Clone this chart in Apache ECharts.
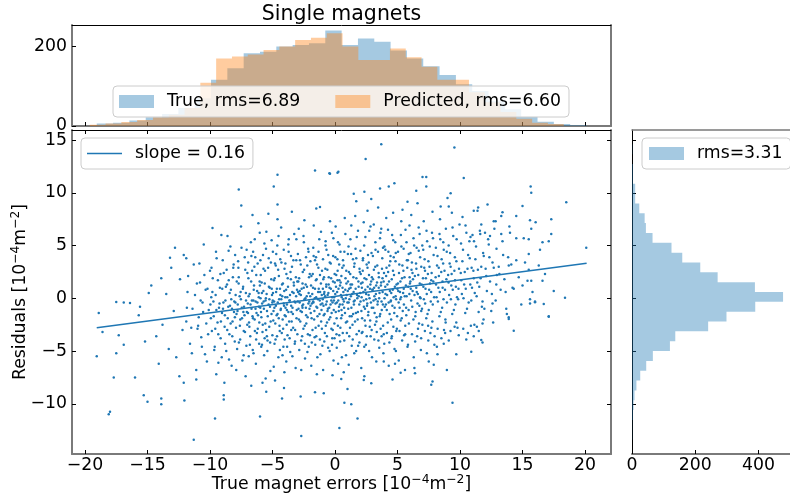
<!DOCTYPE html>
<html><head><meta charset="utf-8">
<script src="https://cdn.jsdelivr.net/npm/echarts@6/dist/echarts.min.js"></script>
<style>html,body{margin:0;padding:0;background:#fff}#c{width:790px;height:500px}</style>
</head><body><div id="c"></div>
<script>
// ---- data ----
const xTicks = [-20, -15, -10, -5, 0, 5, 10, 15, 20];
const yTicks = [-10, -5, 0, 5, 10, 15];
const topHistTicks = [0, 200];
const rightHistTicks = [0, 200, 400];

const trueBinStart = -19.06, trueBinWidth = 1.306;
const trueCounts = [6, 8, 14, 22, 30, 45, 70, 116, 145, 183, 187, 200, 204, 208, 240, 204, 220, 212, 190, 170, 150, 128, 105, 88, 62, 42, 23, 11, 5, 2];
const predBinStart = -19.62, predBinWidth = 1.264;
const predCounts = [3, 6, 10, 15, 22, 28, 45, 109, 170, 175, 180, 191, 200, 216, 222, 233, 200, 166, 166, 195, 173, 149, 116, 116, 85, 60, 35, 18, 8, 5];
const resBinStart = -13.4, resBinWidth = 0.933;
const resCounts = [1, 1, 3, 5, 8, 14, 26, 45, 66, 120, 137, 241, 299, 390, 478, 389, 271, 216, 159, 125, 65, 44, 40, 23, 10, 10, 3, 3, 0, 1];

const fitX = [-19.06, 20.13];
const fitY = [-2.79, 3.32];

const outlierPoints = [
[-1.6,12.1],[-0.45,11.85],[0.2,11.9],[-4.6,11.7],[-4.9,10.6],[-7.7,10.3],[-4.6,8.9],[-7.5,8.8],[-1.5,8.5],[-1.2,8.65],[-6.6,7.9],[-9.8,6.66],[-12.8,4.8],[-11.9,3.8],[-13.2,3.85],[-13.9,1.9],[-14.9,0.5],[-17.5,-0.35],[-18.9,-1.4],[-16.9,-0.4],[-16.4,-0.45],[-15.7,-1.6],
[-19.06,-5.5],[-18.6,-3.2],[-17.3,-3.5],[-16.9,-4.4],[-17.5,-5.2],[-17.7,-7.5],[-16,-7.5],[-18,-10.75],[-18.1,-11],[-15.3,-9.2],[-15,-9.8],[-13.9,-9.5],[-13.9,-10.05],[-11.3,-13.4],[-9.6,-11.4],[-8.9,-9.2],[-8.9,-9.6],[-12.05,-9.7],[-6,-11.2],[-2.7,-13.05],[-4.08,-8.5],[-4.24,-9.5],[-2.75,-9.3],[-1.6,-8.9],[-0.9,-9],[0.35,-12.3],[-5.8,-8],[-5.5,-8.85],[-4.8,-7.8],[-12.1,-8],[-12.45,-7.4],[-11.1,-7.7],
[1.8,-11.4],[0.75,-9.9],[1.3,-10.05],[1,-8.6],[2.9,-8.05],[2.3,-7.75],[7.7,-8.2],[7.8,-7.9],[9.4,-9.9],[10.9,-5.06],[11.7,-3.95],[11.8,-4.2],[14.3,-3.07],[13.9,-1.96],[17.1,-1.74],[16.7,-0.54],[15.6,-0.5],[16,-0.38],[12.6,-0.5],[7.5,-6],[6.35,-6.6],[5.25,-7.05],[4.8,-6.2],[3.9,-6],[-0.2,-7.3],[0.5,-7.65],[8.2,-5.3],[8.7,-4.3],[11.1,-3.6],[11.5,-3.1],[9.7,-2.3],[11.8,-2.4],
[3.7,14.6],[9.55,14.3],[2.45,13.2],[0.27,12],[-0.4,11.8],[7,11.5],[7.3,11.5],[7.3,10.6],[10.3,11.4],[3.6,10.4],[4.3,10.6],[4.75,10.9],[6.5,10.2],[2.35,10.1],[1.5,9.9],[15.65,10.6],[15.7,10],[18.5,9.1],[9.25,9.95],[9,9.5],[5.8,9.15],[2.9,9.4],[1.7,9.2],[8.45,8.7],[9.1,8.7],[11.1,8.3],[11.4,8.3],[13.4,8.15],[13.3,7.8],[15,8.75],[14.5,7.8],[15.6,7.4],[16.05,7.2],[15.7,6.6],[17.3,7.5],[17.3,6.1],[15.1,5.7],[15.5,5.6],[16.6,5.3],[17.1,5.4],[16.4,4.6],[20.1,4.8],[15.5,4.2],[14.5,3.6],[15.7,1.65],[15.4,1.65],[16.6,1.65],[17.5,0.7],[18.4,0.05],[17.1,-1.7],[16,-0.3],[15.6,-0.1],[15,1.2],[14.2,1],[13.9,-1.8],[14,6.2],[12.7,7.3],[12.85,7.3],[11.7,7],[12,6.2],[12.4,5.9],[11,6]
];

const corePoints = [
[-15.6,-0.8],[-15.2,-4.1],
[-14.7,1.2],[-14.3,-3.6],[-14.1,-6.2],
[-13.8,-2.5],[-13.5,0.4],[-13.3,-4.8],[-13.1,2.9],
[-12.9,-1.2],[-12.7,-5.6],[-12.4,1.8],[-12.2,-3.0],[-12.1,4.1],
[-11.9,-2.2],[-11.8,0.6],[-11.6,-4.3],[-11.4,-1.0],[-11.3,3.2],[-11.1,-6.8],[-11.0,-2.9],
[-10.9,-1.8],[-10.8,1.5],[-10.7,-3.7],[-10.6,-0.4],[-10.5,5.1],[-10.4,-5.3],[-10.3,-2.4],[-10.2,0.9],[-10.1,-1.1],[-10.0,2.6],
[-9.97,-0.6],[-9.85,-3.1],[-9.78,1.9],[-9.7,-1.7],[-9.62,-4.6],[-9.55,0.3],[-9.47,3.8],[-9.4,-2.3],[-9.33,-6.1],[-9.28,-0.9],[-9.21,1.0],[-9.15,-3.8],[-9.09,6.0],[-9.04,-1.4],[-9.5,-7.2],[-9.9,0.1],
[-8.96,-1.0],[-8.9,2.4],[-8.83,-2.7],[-8.77,-0.2],[-8.7,-5.0],[-8.64,1.3],[-8.58,-1.9],[-8.51,4.5],[-8.45,-3.4],[-8.4,-0.7],[-8.33,0.8],[-8.27,-6.4],[-8.2,-2.2],[-8.14,2.9],[-8.08,-1.3],[-8.02,-4.1],[-8.6,5.9],[-8.85,-8.0],[-8.3,-0.1],[-8.5,1.7],
[-7.97,-0.4],[-7.92,-2.8],[-7.86,1.6],[-7.8,-1.2],[-7.75,3.5],[-7.69,-4.2],[-7.63,0.2],[-7.58,-2.0],[-7.52,6.8],[-7.46,-0.9],[-7.41,-5.9],[-7.35,1.1],[-7.3,-3.1],[-7.24,-1.6],[-7.18,2.7],[-7.12,-0.2],[-7.07,4.6],[-7.02,-2.5],[-7.9,-6.8],[-7.55,0.6],[-7.33,-1.3],[-7.15,-7.4],[-7.7,2.0],
[-6.98,-0.5],[-6.93,1.9],[-6.88,-2.3],[-6.83,0.4],[-6.78,-3.6],[-6.73,5.3],[-6.68,-1.0],[-6.63,2.6],[-6.58,-4.9],[-6.53,-0.2],[-6.48,1.2],[-6.43,-2.0],[-6.38,3.9],[-6.33,-6.2],[-6.28,-1.4],[-6.23,0.7],[-6.18,-2.9],[-6.13,7.1],[-6.08,-0.8],[-6.03,1.6],[-6.9,-5.5],[-6.6,-1.7],[-6.45,3.0],[-6.25,-3.3],[-6.1,0.1],[-6.7,-8.3],[-6.35,-0.3],[-6.55,4.4],
[-5.98,-0.9],[-5.94,2.2],[-5.89,-1.8],[-5.85,0.5],[-5.8,-3.2],[-5.76,4.1],[-5.71,-0.3],[-5.67,-5.4],[-5.62,1.4],[-5.58,-2.4],[-5.53,0.0],[-5.49,6.3],[-5.44,-1.2],[-5.4,-4.0],[-5.35,2.9],[-5.31,-0.6],[-5.26,-2.7],[-5.22,1.0],[-5.17,-6.9],[-5.13,3.4],[-5.08,-1.5],[-5.04,0.3],[-5.9,-4.6],[-5.65,5.2],[-5.45,-3.6],[-5.25,-0.1],[-5.1,1.8],[-5.55,-7.6],[-5.33,8.0],
[-4.98,-0.2],[-4.94,-2.1],[-4.89,1.7],[-4.85,-0.9],[-4.8,3.3],[-4.76,-3.9],[-4.71,0.6],[-4.67,-1.6],[-4.62,5.0],[-4.58,-0.4],[-4.53,-5.6],[-4.49,2.1],[-4.44,-2.6],[-4.4,0.9],[-4.35,-1.1],[-4.31,6.7],[-4.26,-3.3],[-4.22,0.2],[-4.17,1.4],[-4.13,-4.6],[-4.08,-0.7],[-4.04,2.8],[-4.9,-6.5],[-4.7,4.2],[-4.5,-1.9],[-4.3,-0.1],[-4.15,-2.9],[-4.6,7.5],[-4.05,-7.0],[-4.38,3.7],
[-3.98,0.1],[-3.94,-1.7],[-3.89,2.3],[-3.85,-0.6],[-3.8,-3.5],[-3.76,1.1],[-3.71,4.4],[-3.67,-2.2],[-3.62,-0.2],[-3.58,-5.1],[-3.53,1.8],[-3.49,-1.3],[-3.44,3.0],[-3.4,-0.9],[-3.35,-2.8],[-3.31,0.5],[-3.26,6.1],[-3.22,-4.3],[-3.17,-0.4],[-3.13,2.0],[-3.08,-1.9],[-3.04,0.8],[-3.9,-6.0],[-3.7,5.6],[-3.5,-3.0],[-3.3,1.5],[-3.15,-6.6],[-3.6,0.3],[-3.45,8.2],[-3.1,3.6],[-3.85,-1.1],
[-2.98,-0.3],[-2.94,1.6],[-2.89,-2.0],[-2.85,0.4],[-2.8,3.6],[-2.76,-1.2],[-2.71,-4.0],[-2.67,0.9],[-2.62,-0.7],[-2.58,2.5],[-2.53,-2.9],[-2.49,5.3],[-2.44,-0.1],[-2.4,-5.7],[-2.35,1.3],[-2.31,-1.6],[-2.26,0.2],[-2.22,3.1],[-2.17,-3.4],[-2.13,-0.5],[-2.08,2.0],[-2.04,-1.0],[-2.9,6.6],[-2.7,-6.8],[-2.5,1.0],[-2.3,-2.4],[-2.15,4.7],[-2.6,-0.9],[-2.45,7.4],[-2.1,-4.6],[-2.82,0.7],
[-1.98,0.2],[-1.94,-1.4],[-1.89,2.1],[-1.85,-0.5],[-1.8,-3.0],[-1.76,1.0],[-1.71,4.0],[-1.67,-2.0],[-1.62,0.0],[-1.58,-4.4],[-1.53,1.7],[-1.49,-0.8],[-1.44,3.2],[-1.4,-1.7],[-1.35,0.6],[-1.31,-2.6],[-1.26,5.6],[-1.22,-0.2],[-1.17,-5.3],[-1.13,1.4],[-1.08,-1.1],[-1.04,2.6],[-1.9,-6.4],[-1.7,6.9],[-1.5,-3.6],[-1.3,0.9],[-1.15,-0.6],[-1.6,3.6],[-1.45,-7.2],[-1.2,2.2],[-1.05,-2.9],[-1.75,-0.3],
[-0.98,-0.1],[-0.94,1.8],[-0.9,-1.6],[-0.85,0.6],[-0.81,-3.3],[-0.77,2.8],[-0.72,-0.6],[-0.68,4.6],[-0.64,-2.3],[-0.59,0.3],[-0.55,-4.7],[-0.51,1.3],[-0.46,-0.9],[-0.42,3.4],[-0.38,-1.8],[-0.33,0.9],[-0.29,-2.9],[-0.25,6.2],[-0.2,-0.4],[-0.16,1.6],[-0.12,-5.9],[-0.07,0.1],[-0.03,2.3],[-0.95,-6.8],[-0.75,5.4],[-0.6,-1.2],[-0.4,7.3],[-0.22,-3.8],[-0.1,-1.1],[-0.87,0.4],[-0.5,2.0],[-0.3,-0.2],[-0.15,4.0],[-0.05,-2.4],[-0.7,1.1],
[0.02,0.4],[0.06,-1.3],[0.1,2.2],[0.15,-0.4],[0.19,3.7],[0.23,-2.6],[0.28,0.9],[0.32,-0.8],[0.36,5.1],[0.41,-4.1],[0.45,1.5],[0.49,-1.9],[0.54,0.1],[0.58,2.9],[0.62,-3.3],[0.67,0.6],[0.71,-0.3],[0.75,4.4],[0.8,-1.4],[0.84,1.9],[0.88,-5.4],[0.93,0.3],[0.97,-2.2],[0.05,6.8],[0.25,-6.2],[0.4,1.2],[0.6,-0.6],[0.78,7.6],[0.9,2.6],[0.12,-3.4],[0.33,3.2],[0.52,-1.1],[0.7,-7.0],[0.86,0.0],[0.2,1.7],
[1.02,0.7],[1.06,-1.0],[1.11,2.5],[1.15,-0.1],[1.2,-2.8],[1.24,1.3],[1.29,4.2],[1.33,-1.7],[1.38,0.4],[1.42,-3.9],[1.47,2.0],[1.51,-0.6],[1.56,3.3],[1.6,-2.2],[1.65,0.9],[1.69,-5.0],[1.74,5.8],[1.78,0.0],[1.83,-1.3],[1.87,1.6],[1.92,-3.1],[1.96,2.8],[1.1,-6.3],[1.3,6.9],[1.5,-0.3],[1.7,3.8],[1.85,-4.5],[1.25,1.0],[1.45,-1.5],[1.62,7.8],[1.9,0.2],[1.08,4.9],
[2.02,0.5],[2.06,2.3],[2.11,-1.2],[2.15,1.0],[2.2,-3.2],[2.24,3.8],[2.29,-0.2],[2.33,5.0],[2.38,-2.1],[2.42,0.8],[2.47,-4.4],[2.51,1.8],[2.56,-0.7],[2.6,2.9],[2.65,-1.6],[2.69,0.3],[2.74,6.4],[2.78,-2.7],[2.83,1.3],[2.87,-0.4],[2.92,4.3],[2.96,-5.6],[2.1,-6.6],[2.3,7.2],[2.5,-0.1],[2.7,3.4],[2.85,-3.6],[2.2,1.5],[2.4,-1.0],[2.6,8.3],[2.8,0.9],[2.95,2.0],[2.35,-7.4],
[3.02,0.8],[3.06,-0.9],[3.11,2.7],[3.15,0.2],[3.2,-2.5],[3.24,4.6],[3.29,1.2],[3.33,-1.8],[3.38,3.1],[3.42,-0.3],[3.47,-4.0],[3.51,2.0],[3.56,0.5],[3.6,5.7],[3.65,-2.9],[3.69,1.5],[3.74,-1.1],[3.78,3.8],[3.83,-0.6],[3.87,-5.2],[3.92,2.4],[3.96,0.0],[3.1,7.0],[3.3,-6.0],[3.5,1.0],[3.7,6.6],[3.9,-3.4],[3.25,-0.1],[3.45,8.6],[3.62,-1.5],[3.8,1.9],[3.95,4.9],
[4.02,1.1],[4.07,-0.6],[4.12,2.9],[4.17,0.3],[4.22,-2.3],[4.27,4.4],[4.32,1.6],[4.37,-1.5],[4.42,3.5],[4.47,-0.2],[4.52,-3.8],[4.57,6.0],[4.62,0.8],[4.67,-2.7],[4.72,2.2],[4.77,-0.9],[4.82,5.3],[4.87,-5.0],[4.92,1.3],[4.97,-1.7],[4.1,7.6],[4.3,-6.4],[4.5,0.5],[4.7,3.9],[4.9,-3.1],[4.25,2.5],[4.45,-0.3],[4.65,8.1],[4.85,0.2],[4.6,-7.7],
[5.03,1.4],[5.09,-0.4],[5.14,3.2],[5.2,0.6],[5.25,-2.1],[5.31,4.9],[5.36,1.9],[5.42,-1.2],[5.47,2.6],[5.53,-3.5],[5.58,0.2],[5.64,6.5],[5.69,-0.9],[5.75,3.6],[5.8,-4.6],[5.86,1.1],[5.91,-2.4],[5.97,2.0],[5.1,-5.9],[5.3,7.3],[5.5,0.9],[5.7,-1.6],[5.9,4.2],[5.22,-0.1],[5.4,8.4],[5.6,-6.8],[5.78,2.9],[5.95,0.4],
[6.03,1.6],[6.09,-0.2],[6.15,3.4],[6.21,0.7],[6.27,-2.0],[6.33,5.0],[6.39,2.1],[6.45,-1.3],[6.51,2.8],[6.57,-3.6],[6.63,0.4],[6.69,6.7],[6.75,-0.7],[6.81,3.9],[6.87,-4.9],[6.93,1.3],[6.99,-2.5],[6.1,7.9],[6.3,-5.6],[6.5,1.0],[6.7,4.5],[6.9,-1.2],[6.2,2.4],[6.6,9.0],[6.8,0.1],[6.4,-7.1],
[7.04,1.9],[7.11,-0.1],[7.17,3.7],[7.24,0.9],[7.3,-1.9],[7.37,5.4],[7.43,2.3],[7.5,-1.1],[7.56,3.0],[7.63,-3.3],[7.69,0.6],[7.76,6.2],[7.82,-0.6],[7.89,4.1],[7.95,-4.4],[7.1,7.3],[7.35,-5.2],[7.6,1.4],[7.8,8.2],[7.2,2.6],[7.45,-2.6],[7.7,1.7],[7.9,-6.3],
[8.05,2.0],[8.12,0.1],[8.2,4.0],[8.27,1.0],[8.35,-1.7],[8.42,5.6],[8.5,2.5],[8.57,-0.9],[8.65,3.3],[8.72,-3.0],[8.8,0.8],[8.87,6.6],[8.95,-0.4],[8.15,-4.6],[8.4,7.5],[8.6,1.6],[8.85,-2.3],[8.3,2.9],[8.7,4.6],[8.95,-6.8],
[9.05,2.2],[9.13,0.3],[9.21,4.3],[9.3,1.2],[9.38,-1.5],[9.46,5.9],[9.55,2.6],[9.63,-0.6],[9.71,3.5],[9.8,-2.8],[9.88,0.9],[9.96,7.0],[9.1,-4.0],[9.35,8.1],[9.6,1.7],[9.85,-0.1],[9.25,3.0],[9.7,-5.3],
[10.06,2.4],[10.15,0.4],[10.24,4.6],[10.33,1.3],[10.42,-1.4],[10.51,6.2],[10.6,2.8],[10.69,-0.4],[10.78,3.8],[10.87,-2.6],[10.96,1.0],[10.2,7.7],[10.5,-3.9],[10.75,5.4],[10.9,-0.2],
[11.07,2.6],[11.18,0.5],[11.28,4.9],[11.38,1.5],[11.49,-1.3],[11.59,6.4],[11.7,3.0],[11.8,-0.3],[11.9,4.0],[11.15,-2.5],[11.45,8.6],[11.65,1.9],[11.95,-1.0],
[12.05,2.8],[12.15,0.7],[12.3,5.1],[12.4,1.6],[12.5,-1.2],[12.6,3.4],[12.75,6.6],[12.85,-0.2],[12.95,2.2],[12.2,8.9],
[13.1,3.0],[13.25,0.8],[13.4,5.4],[13.55,1.8],[13.7,-1.0],[13.85,3.9],[13.95,6.8],
[14.1,3.2],[14.3,0.9],[14.5,5.7],[14.7,2.0],[14.9,-0.6],
[15.2,3.4],[15.5,2.7],[15.8,0.6],
[16.3,3.1],[16.8,2.3]
];

const densePoints = [
[-11.85,-0.9],[-11.5,-2.8],[-11.2,0.3],
[-10.95,-2.6],[-10.75,-0.2],[-10.55,-1.3],[-10.35,0.8],[-10.15,-3.4],
[-9.93,-1.9],[-9.81,0.6],[-9.73,-0.3],[-9.58,-2.9],[-9.49,-1.1],[-9.37,1.7],[-9.24,-0.5],[-9.13,-2.2],[-9.02,0.9],
[-8.93,-0.4],[-8.81,-1.6],[-8.73,1.1],[-8.62,-3.0],[-8.54,-0.8],[-8.43,0.5],[-8.35,-2.4],[-8.24,-1.0],[-8.17,2.0],[-8.06,-0.3],[-8.01,-1.8],
[-7.95,0.3],[-7.88,-1.5],[-7.78,-0.6],[-7.71,1.4],[-7.61,-2.6],[-7.53,-0.1],[-7.44,-1.9],[-7.37,0.9],[-7.28,-0.8],[-7.2,-3.2],[-7.13,0.5],[-7.05,-1.3],[-7.01,2.4],
[-6.96,-1.4],[-6.91,0.2],[-6.85,-2.7],[-6.76,-0.6],[-6.71,1.6],[-6.65,-0.2],[-6.56,-1.9],[-6.5,0.8],[-6.41,-3.1],[-6.36,-1.0],[-6.3,2.2],[-6.21,-0.4],[-6.16,-1.6],[-6.11,0.5],[-6.06,-2.3],[-6.01,1.2],
[-5.96,0.0],[-5.92,-1.3],[-5.87,1.5],[-5.83,-0.5],[-5.78,-2.5],[-5.73,0.7],[-5.69,-1.0],[-5.6,2.6],[-5.56,-0.2],[-5.51,-3.0],[-5.47,0.4],[-5.38,-1.7],[-5.29,1.1],[-5.2,-0.8],[-5.15,-2.2],[-5.06,0.9],[-5.02,-0.4],
[-4.96,0.5],[-4.92,-1.2],[-4.87,-0.3],[-4.82,1.9],[-4.78,-2.4],[-4.73,-0.7],[-4.65,0.9],[-4.6,-1.5],[-4.55,2.7],[-4.47,-0.1],[-4.42,-3.1],[-4.37,0.3],[-4.33,-1.0],[-4.24,1.3],[-4.19,-2.0],[-4.11,-0.5],[-4.06,0.7],[-4.02,-1.6],
[-3.96,-0.9],[-3.91,0.8],[-3.87,-2.5],[-3.82,0.1],[-3.78,1.9],[-3.73,-1.3],[-3.65,-0.2],[-3.56,2.5],[-3.51,-0.7],[-3.47,-2.2],[-3.42,0.6],[-3.37,-1.5],[-3.29,1.2],[-3.24,-0.3],[-3.19,-3.0],[-3.11,0.2],[-3.06,-1.1],[-3.02,1.6],
[-2.96,0.6],[-2.92,-1.0],[-2.87,1.9],[-2.83,-0.4],[-2.78,-2.2],[-2.73,0.3],[-2.65,-1.3],[-2.6,1.4],[-2.55,-0.6],[-2.47,2.7],[-2.42,-2.6],[-2.37,0.0],[-2.33,-0.9],[-2.24,1.1],[-2.19,-1.8],[-2.11,0.5],[-2.06,-0.3],[-2.02,2.3],
[-1.96,-0.7],[-1.92,1.2],[-1.87,-1.9],[-1.82,0.4],[-1.78,2.3],[-1.73,-0.4],[-1.65,-1.2],[-1.6,0.9],[-1.55,-2.8],[-1.51,0.1],[-1.47,1.8],[-1.42,-0.9],[-1.37,-0.1],[-1.33,2.9],[-1.24,-1.5],[-1.19,0.6],[-1.11,-2.2],[-1.06,0.3],[-1.02,-0.5],
[-0.97,0.9],[-0.92,-0.7],[-0.88,2.0],[-0.83,-1.5],[-0.79,0.2],[-0.74,-2.6],[-0.7,1.3],[-0.66,-0.3],[-0.61,2.7],[-0.57,-1.0],[-0.53,0.5],[-0.48,-2.0],[-0.44,1.0],[-0.36,-0.6],[-0.31,1.9],[-0.27,-1.4],[-0.23,0.1],[-0.18,-3.0],[-0.14,0.7],[-0.09,-0.2],[-0.02,1.5],
[0.04,-0.5],[0.08,1.1],[0.13,-1.9],[0.17,0.6],[0.21,2.6],[0.26,-0.2],[0.3,-1.2],[0.35,1.7],[0.39,-0.6],[0.43,-2.8],[0.47,0.3],[0.51,2.1],[0.56,-1.6],[0.6,1.0],[0.65,-0.1],[0.69,3.1],[0.73,-0.9],[0.82,0.8],[0.87,-2.3],[0.91,1.4],[0.99,-0.4],
[1.04,1.6],[1.09,-0.4],[1.13,0.9],[1.18,-1.7],[1.22,2.3],[1.27,0.2],[1.31,-0.9],[1.36,1.3],[1.4,-2.5],[1.49,0.6],[1.53,3.0],[1.58,-0.2],[1.67,-1.4],[1.71,1.9],[1.76,0.3],[1.81,-2.0],[1.89,1.1],[1.94,-0.6],[1.98,2.5],
[2.04,-0.3],[2.08,1.4],[2.13,0.1],[2.17,-1.9],[2.22,2.6],[2.27,0.6],[2.31,-0.8],[2.36,1.9],[2.44,-2.6],[2.49,0.4],[2.53,3.2],[2.58,-0.5],[2.62,1.1],[2.67,-1.3],[2.72,2.2],[2.76,0.0],[2.81,-2.1],[2.89,1.6],[2.94,-0.9],[2.98,0.8],
[3.04,1.8],[3.08,-0.2],[3.13,1.0],[3.17,-1.4],[3.22,3.0],[3.27,0.4],[3.31,-2.2],[3.36,1.5],[3.4,-0.6],[3.49,2.4],[3.53,0.0],[3.58,-1.7],[3.67,1.2],[3.72,-0.3],[3.76,2.8],[3.81,0.6],[3.85,-2.6],[3.89,1.6],[3.98,-0.8],
[4.04,0.4],[4.09,2.1],[4.14,-1.1],[4.19,1.3],[4.29,-0.4],[4.34,3.1],[4.39,0.7],[4.49,-2.0],[4.54,1.8],[4.59,-0.7],[4.64,2.6],[4.69,0.1],[4.74,-1.4],[4.79,1.1],[4.84,3.5],[4.89,-0.1],[4.99,0.9],
[5.06,0.7],[5.12,2.4],[5.17,-0.9],[5.23,1.6],[5.28,0.1],[5.34,-1.9],[5.39,3.1],[5.45,0.5],[5.51,-0.6],[5.56,2.0],[5.62,-2.6],[5.67,1.2],[5.73,0.2],[5.83,3.6],[5.89,-1.1],[5.99,1.4],
[6.06,0.9],[6.12,2.7],[6.18,-0.8],[6.24,1.8],[6.36,0.3],[6.42,-1.7],[6.48,3.3],[6.54,0.6],[6.6,-0.5],[6.66,2.2],[6.72,-2.4],[6.78,1.4],[6.84,0.0],[6.9,3.0],[6.96,-1.0],
[7.07,1.1],[7.14,2.9],[7.21,-0.5],[7.27,1.9],[7.34,0.4],[7.4,-1.5],[7.47,3.5],[7.53,0.8],[7.66,-0.3],[7.73,2.4],[7.79,-2.2],[7.86,1.6],[7.93,0.1],
[8.08,1.3],[8.16,3.1],[8.23,-0.3],[8.31,2.1],[8.38,0.6],[8.46,-1.3],[8.53,3.7],[8.61,1.0],[8.68,-0.1],[8.76,2.6],[8.83,-2.0],[8.91,1.8],
[9.08,1.5],[9.17,3.3],[9.27,-0.1],[9.33,2.3],[9.42,0.8],[9.51,-1.1],[9.59,3.9],[9.67,1.1],[9.76,0.1],[9.92,2.8],
[10.1,1.7],[10.19,3.5],[10.28,0.0],[10.38,2.5],[10.46,0.9],[10.56,-1.0],[10.65,4.1],[10.82,1.3],[10.93,2.9],
[11.1,1.9],[11.23,3.7],[11.33,0.2],[11.43,2.7],[11.54,1.1],[11.75,-0.8],[11.85,4.3],
[12.1,2.1],[12.35,3.9],[12.55,0.4],[12.7,2.9],[12.9,1.3],
[13.15,2.3],[13.45,4.1],[13.65,0.6],[13.9,3.1]
];

const bandPoints = [
[-11.75,2.1],[-11.45,-5.2],[-11.05,1.4],
[-10.85,3.3],[-10.65,-4.6],[-10.45,2.2],[-10.25,-6.0],
[-9.88,2.9],[-9.66,-4.9],[-9.52,4.4],[-9.34,-3.4],[-9.17,2.3],[-9.06,-5.6],
[-8.98,3.6],[-8.79,-4.3],[-8.67,2.7],[-8.48,-5.8],[-8.37,4.9],[-8.22,-3.6],[-8.11,3.2],
[-7.99,4.1],[-7.83,-4.8],[-7.73,2.9],[-7.59,-3.9],[-7.48,4.8],[-7.31,-5.4],[-7.22,3.9],[-7.09,-4.5],
[-6.95,3.4],[-6.81,-4.4],[-6.69,4.0],[-6.52,-5.2],[-6.42,5.6],[-6.31,-3.9],[-6.19,3.3],[-6.07,-4.3],[-6.02,6.2],
[-5.97,3.6],[-5.84,-4.4],[-5.72,2.8],[-5.63,-3.8],[-5.52,4.7],[-5.41,-5.0],[-5.3,3.8],[-5.19,-4.2],[-5.07,5.5],[-5.01,-3.5],
[-4.97,4.4],[-4.84,-4.3],[-4.74,3.1],[-4.64,-3.6],[-4.52,5.9],[-4.41,-4.9],[-4.29,3.4],[-4.2,-5.4],[-4.1,4.6],[-4.03,-3.9],
[-3.97,3.3],[-3.83,-4.6],[-3.74,5.1],[-3.63,-3.8],[-3.52,4.0],[-3.41,-5.5],[-3.33,3.6],[-3.2,-4.1],[-3.09,5.6],[-3.01,-3.4],
[-2.97,4.2],[-2.86,-4.9],[-2.74,3.2],[-2.63,-3.6],[-2.52,5.9],[-2.41,-4.3],[-2.32,3.9],[-2.21,-5.1],[-2.12,4.4],[-2.01,-3.5],
[-1.97,3.5],[-1.86,-4.2],[-1.74,4.8],[-1.63,-3.7],[-1.52,3.9],[-1.41,-5.6],[-1.32,4.4],[-1.21,-3.9],[-1.12,6.3],[-1.01,-4.5],
[-0.96,3.7],[-0.86,-4.1],[-0.76,5.0],[-0.65,-3.6],[-0.54,4.1],[-0.43,-5.0],[-0.34,3.3],[-0.24,-4.4],[-0.13,5.7],[-0.04,-3.8],
[0.03,3.9],[0.14,-4.7],[0.24,5.3],[0.34,-3.5],[0.44,4.4],[0.55,-5.6],[0.64,3.6],[0.74,-4.0],[0.83,6.1],[0.95,-3.3],
[1.03,4.2],[1.14,-3.6],[1.23,5.6],[1.34,-4.5],[1.44,3.7],[1.54,-5.2],[1.64,4.7],[1.73,-3.4],[1.84,6.4],[1.95,-4.2],
[2.03,4.5],[2.14,-3.3],[2.23,3.6],[2.34,-4.6],[2.43,5.8],[2.54,-3.6],[2.64,4.1],[2.73,-5.0],[2.84,6.8],[2.93,-3.0],
[3.03,4.0],[3.14,-3.9],[3.23,5.3],[3.34,-3.2],[3.44,4.4],[3.54,-4.7],[3.64,6.2],[3.73,-3.6],[3.84,4.8],[3.94,-4.3],
[4.03,4.6],[4.15,-3.3],[4.24,6.5],[4.35,-4.2],[4.44,4.0],[4.55,-3.6],[4.66,5.5],[4.76,-4.8],[4.86,4.3],[4.95,-2.9],
[5.04,4.4],[5.16,-3.1],[5.27,6.0],[5.37,-4.0],[5.49,4.7],[5.61,-3.4],[5.72,5.3],[5.84,-4.4],[5.96,6.9],
[6.04,4.3],[6.16,-3.4],[6.28,5.7],[6.41,-4.1],[6.53,4.8],[6.64,-2.9],[6.77,6.1],[6.89,-3.8],[6.98,5.0],
[7.06,4.6],[7.19,-3.1],[7.32,6.4],[7.46,-4.0],[7.58,4.9],[7.71,-2.8],[7.84,5.7],[7.97,-3.6],
[8.07,4.8],[8.21,-2.9],[8.36,6.1],[8.51,-3.8],[8.66,5.3],[8.81,-3.3],[8.94,4.4],
[9.09,5.0],[9.24,-3.1],[9.4,6.7],[9.57,-2.7],[9.73,5.6],[9.9,-3.5],
[10.08,5.2],[10.26,-2.9],[10.44,6.9],[10.63,-3.3],[10.84,5.8],
[11.12,5.4],[11.35,-2.7],[11.62,6.1],[11.88,-2.0],
[12.25,5.6],[12.65,-2.3],[12.92,4.7],
[13.3,6.1],[13.75,-1.5]
];

// ---- chart ----
const C0 = '#1f77b4';
const blueA = 'rgba(31,119,180,0.4)';
const orangeA = 'rgba(255,127,14,0.4)';
const FONT = 'DejaVu Sans';
const FS = 17.3;
const fmt = v => (v < 0 ? '\u2212' + (-v) : String(v));

function edgesOf(start, width, n) { const e = []; for (let i = 0; i <= n; i++) e.push(start + i * width); return e; }
function histSeries(name, counts, start, width, color, xi, yi, horizontal) {
  const edges = edgesOf(start, width, counts.length);
  return {
    type: 'custom', name, xAxisIndex: xi, yAxisIndex: yi, silent: true, z: 2,
    itemStyle: { color },
    data: counts.map((c, i) => horizontal ? [c, edges[i]] : [edges[i], c]),
    renderItem: function (params, api) {
      if (params.dataIndex !== 0) return null;
      const P = (v, c) => horizontal ? api.coord([c, v]) : api.coord([v, c]);
      const pts = [P(edges[0], 0)];
      for (let i = 0; i < counts.length; i++) { pts.push(P(edges[i], counts[i])); pts.push(P(edges[i + 1], counts[i])); }
      pts.push(P(edges[counts.length], 0));
      return { type: 'polygon', shape: { points: pts }, style: { fill: color } };
    }
  };
}

const GRAY = '#7a7a7a';
const lineAx = (color, width) => ({ show: true, onZero: false, lineStyle: { color, width } });
const tick = vals => ({ show: true, inside: true, length: 4, customValues: vals, lineStyle: { color: '#000', width: 1 } });
const noTick = { show: false };
const lab = vals => ({ show: true, customValues: vals, formatter: fmt, fontFamily: FONT, fontSize: FS, color: '#000' });
const noLab = { show: false };
const XMIN = -21.04, XMAX = 22.08, YMIN = -14.76, YMAX = 15.95;

const legendBase = {
  orient: 'horizontal', itemWidth: 35, itemHeight: 13, backgroundColor: 'rgba(255,255,255,0.8)',
  borderColor: '#cccccc', borderWidth: 1, borderRadius: 4,
  textStyle: { fontFamily: FONT, fontSize: FS, color: '#000', lineHeight: 21, padding: [0, 0, 0, 8] },
  selectedMode: false
};
const rich = { n: { fontFamily: FONT, fontSize: FS, fill: '#000', lineHeight: 22 }, s: { fontFamily: FONT, fontSize: 12.3, fill: '#000', lineHeight: 13, verticalAlign: 'top' } };

const option = {
  animation: false,
  backgroundColor: '#fff',
  grid: [
    { left: 72, top: 130, width: 539, height: 324 },
    { left: 72, top: 25, width: 539, height: 101 },
    { left: 632, top: 130, width: 165, height: 324 }
  ],
  xAxis: [
    { gridIndex: 0, type: 'value', min: XMIN, max: XMAX, position: 'bottom', axisLine: lineAx(GRAY, 2), axisTick: tick(xTicks), axisLabel: Object.assign(lab(xTicks), { margin: 3 }), splitLine: { show: false } },
    { gridIndex: 0, type: 'value', min: XMIN, max: XMAX, position: 'top', axisLine: lineAx('#000', 1), axisTick: tick(xTicks), axisLabel: noLab, splitLine: { show: false } },
    { gridIndex: 1, type: 'value', min: XMIN, max: XMAX, position: 'bottom', axisLine: lineAx(GRAY, 2), axisTick: tick(xTicks), axisLabel: noLab, splitLine: { show: false } },
    { gridIndex: 1, type: 'value', min: XMIN, max: XMAX, position: 'top', axisLine: lineAx('#000', 1), axisTick: noTick, axisLabel: noLab, splitLine: { show: false } },
    { gridIndex: 2, type: 'value', min: 0, max: 500, position: 'bottom', axisLine: lineAx(GRAY, 2), axisTick: tick(rightHistTicks), axisLabel: Object.assign(lab(rightHistTicks), { margin: 3 }), splitLine: { show: false } },
    { gridIndex: 2, type: 'value', min: 0, max: 500, position: 'top', axisLine: lineAx(GRAY, 1.5), axisTick: noTick, axisLabel: noLab, splitLine: { show: false } }
  ],
  yAxis: [
    { gridIndex: 0, type: 'value', min: YMIN, max: YMAX, position: 'left', axisLine: lineAx(GRAY, 2), axisTick: tick(yTicks), axisLabel: Object.assign(lab(yTicks), { margin: 5 }), splitLine: { show: false } },
    { gridIndex: 0, type: 'value', min: YMIN, max: YMAX, position: 'right', axisLine: lineAx(GRAY, 2), axisTick: tick(yTicks), axisLabel: noLab, splitLine: { show: false } },
    { gridIndex: 1, type: 'value', min: 0, max: 254, position: 'left', axisLine: lineAx(GRAY, 2), axisTick: tick(topHistTicks), axisLabel: Object.assign(lab(topHistTicks), { margin: 5 }), splitLine: { show: false } },
    { gridIndex: 1, type: 'value', min: 0, max: 254, position: 'right', axisLine: lineAx(GRAY, 2), axisTick: noTick, axisLabel: noLab, splitLine: { show: false } },
    { gridIndex: 2, type: 'value', min: YMIN, max: YMAX, position: 'left', axisLine: lineAx('#000', 1), axisTick: tick(yTicks), axisLabel: noLab, splitLine: { show: false } }
  ],
  legend: [
    Object.assign({}, legendBase, { left: 113, top: 86, padding: [5, 8, 5, 6], itemGap: 35,
      data: [{ name: 'True, rms=6.89', icon: 'rect' }, { name: 'Predicted, rms=6.60', icon: 'rect' }] }),
    Object.assign({}, legendBase, { left: 81, top: 138, padding: [5, 8, 5, 6], itemHeight: 1.5,
      data: [{ name: 'slope = 0.16', icon: 'rect' }] }),
    Object.assign({}, legendBase, { left: 642, top: 138, padding: [5, 8, 5, 7],
      data: [{ name: 'rms=3.31', icon: 'rect' }] })
  ],
  graphic: [
    { type: 'text', x: 341.5, y: 15, style: { text: 'Single magnets', fontFamily: FONT, fontSize: 20.5, fill: '#000', align: 'center', verticalAlign: 'middle' } },
    { type: 'text', x: 341.5, y: 485, style: { text: '{n|True magnet errors [10}{s|\u22124}{n|m}{s|\u22122}{n|]}', align: 'center', verticalAlign: 'middle', rich } },
    { type: 'text', x: 21, y: 292, rotation: Math.PI / 2, style: { text: '{n|Residuals [10}{s|\u22124}{n|m}{s|\u22122}{n|]}', align: 'center', verticalAlign: 'middle', rich } }
  ],
  series: [
    { type: 'scatter', name: 'points', xAxisIndex: 0, yAxisIndex: 0, data: outlierPoints.concat(corePoints, densePoints, bandPoints), symbol: 'circle', symbolSize: 2.5, itemStyle: { color: C0, opacity: 1 }, silent: true, z: 2 },
    { type: 'line', name: 'slope = 0.16', xAxisIndex: 0, yAxisIndex: 0, data: [[fitX[0], fitY[0]], [fitX[1], fitY[1]]], symbol: 'none', lineStyle: { color: C0, width: 1.6 }, itemStyle: { color: C0 }, silent: true, z: 3 },
    histSeries('True, rms=6.89', trueCounts, trueBinStart, trueBinWidth, blueA, 2, 2, false),
    histSeries('Predicted, rms=6.60', predCounts, predBinStart, predBinWidth, orangeA, 2, 2, false),
    histSeries('rms=3.31', resCounts, resBinStart, resBinWidth, blueA, 4, 4, true)
  ]
};
const chart = echarts.init(document.getElementById('c'), null, { renderer: 'canvas' });
chart.setOption(option);
</script>
</body></html>
